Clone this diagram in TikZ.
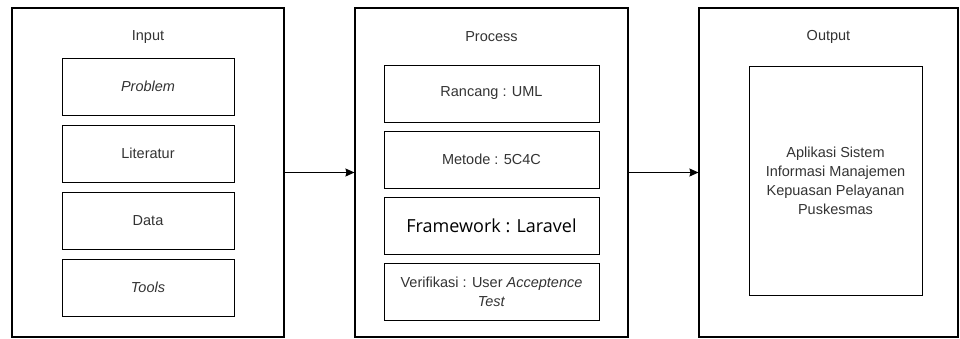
\documentclass[tikz,border=0pt]{standalone}
\usepackage{fontspec}
\setmainfont{Liberation Sans}
\newfontfamily\fwfont{Open Sans}
\usetikzlibrary{positioning,arrows.meta}
\definecolor{txtgray}{HTML}{333333}
\newcommand{\txtsize}{\fontsize{14.5pt}{19pt}\selectfont}

\begin{document}
\begin{tikzpicture}[x=1pt, y=-1pt,
    stage/.style={draw, line width=1.1pt, minimum width=272pt, minimum height=329pt, inner sep=0pt},
    stagelabel/.style={text=txtgray, font=\txtsize},
    item/.style={draw, line width=1pt, minimum width=172pt, minimum height=57pt, inner sep=2pt,
        align=center, text=txtgray, font=\txtsize},
    proc/.style={item, minimum width=215pt},
    flow/.style={line width=1pt, -{Stealth[length=9pt, width=8pt, inset=1pt]}}]
    \useasboundingbox (0,0) rectangle (960,338);

    % Stage boxes
    \node[stage] (input) at (148,172.5) {};
    \node[stage, minimum width=273pt] (process) at (491.5,172.5) {};
    \node[stage, minimum width=259pt] (output) at (828.5,172.5) {};

    % Stage titles
    \node[stagelabel] (inlabel) at (148,37) {Input};
    \node[stagelabel] (proclabel) at (491.5,37) {Process};
    \node[stagelabel] (outlabel) at (828.5,37) {Output};

    % Input items
    \node[item] (problem) at (148,86.5) {\textit{Problem}};
    \node[item, below=9pt of problem] (literatur) {Literatur};
    \node[item, below=9pt of literatur] (data) {Data};
    \node[item, below=9pt of data] (tools) {\textit{Tools}};

    % Process items
    \node[proc] (rancang) at (491.5,93.5) {Rancang : UML};
    \node[proc, below=8pt of rancang] (metode) {Metode : 5C4C};
    \node[proc, below=8pt of metode, text=black, font=\fwfont\fontsize{18pt}{21pt}\selectfont] (framework) {Framework : Laravel};
    \node[proc, below=8pt of framework] (verif) {Verifikasi : User \textit{Acceptence}\\\textit{Test}};

    % Output item
    \node[item, minimum height=229pt, minimum width=173pt] (aplikasi) at (835.5,180.5)
        {Aplikasi Sistem\\Informasi Manajemen\\Kepuasan Pelayanan\\Puskesmas};

    % Flow between stages
    \draw[flow] (input.east) -- (process.west);
    \draw[flow] (process.east) -- (output.west);
\end{tikzpicture}
\end{document}
